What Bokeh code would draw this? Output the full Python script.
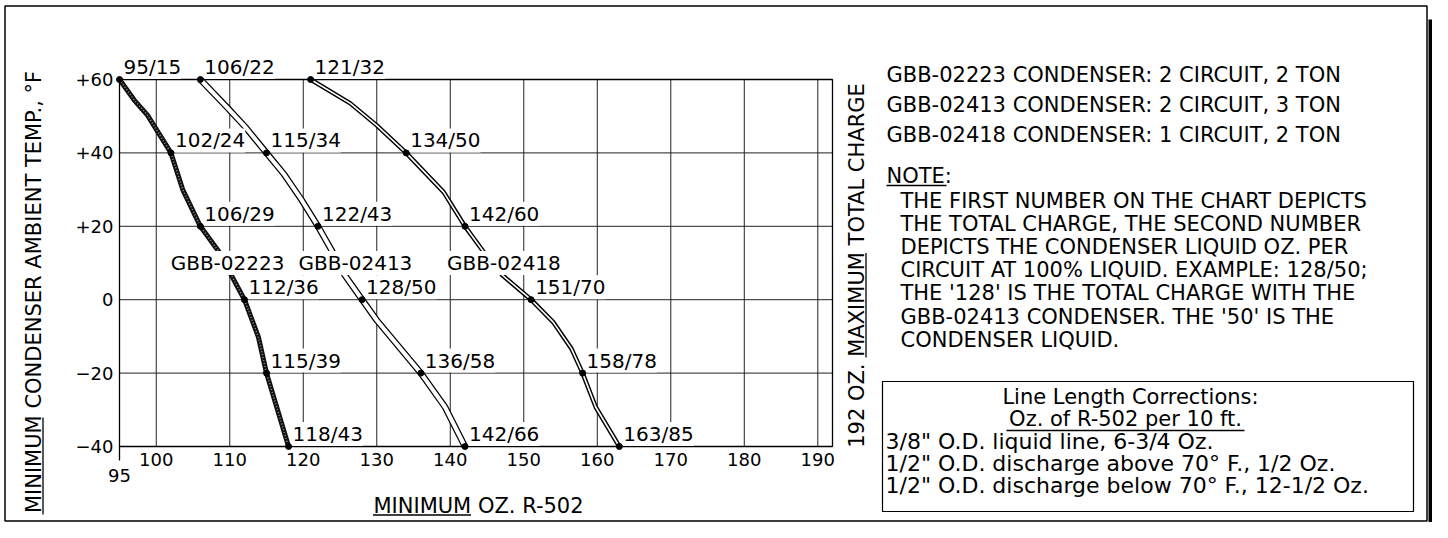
import math
from bokeh.plotting import figure
from bokeh.models import (ColumnDataSource, LabelSet, Label, FixedTicker, LinearAxis)
from bokeh.core.properties import value
from bokeh.embed import file_html
from bokeh.resources import INLINE

FONT_NAME = "DejaVu Sans"
FONT = value(FONT_NAME)

# ---------------- data ----------------
temps = [60, 40, 20, 0, -20, -40]
models = ["GBB-02223", "GBB-02413", "GBB-02418"]
circuits = [2, 2, 1]
tons = [2, 3, 2]

charge_02223 = [95, 102, 106, 112, 115, 118]
liquid_02223 = [15, 24, 29, 36, 39, 43]
charge_02413 = [106, 115, 122, 128, 136, 142]
liquid_02413 = [22, 34, 43, 50, 58, 66]
charge_02418 = [121, 134, 142, 151, 158, 163]
liquid_02418 = [32, 50, 60, 70, 78, 85]

# traced curve shapes (upper and lower pieces, broken for the model name)
trace_02223_up_x = [95, 97.0, 98.8, 102, 103.6, 106, 108.7]
trace_02223_up_y = [60, 54.4, 50.3, 40, 30, 20, 12.6]
trace_02223_lo_x = [110.1, 112, 113.9, 115, 118]
trace_02223_lo_y = [7.1, 0, -10.2, -20, -40]
trace_02413_up_x = [106, 109.6, 112.1, 115, 117.3, 119.8, 122, 124.1]
trace_02413_up_y = [60, 52.5, 47.1, 40, 34.4, 27.1, 20, 12.6]
trace_02413_lo_x = [125.5, 128, 130.0, 136, 139.3, 142]
trace_02413_lo_y = [7.1, 0, -5.6, -20, -29.3, -40]
trace_02418_up_x = [121, 126.4, 130.0, 134, 139.1, 142, 144.7]
trace_02418_up_y = [60, 53.5, 47.5, 40, 29.3, 20, 12.6]
trace_02418_lo_x = [146.9, 151, 154.0, 156.5, 158, 159.8, 163]
trace_02418_lo_y = [7.0, 0, -6.1, -13.4, -20, -29.3, -40]

model_label_x = [109.7, 127.1, 147.3]
model_label_y = [10.0, 10.0, 10.0]

x_min, x_max = 95, 192
y_min, y_max = -40, 60
x_ticks = [100, 110, 120, 130, 140, 150, 160, 170, 180, 190]
y_ticks = [-40, -20, 0, 20, 40, 60]
y_tick_labels = ["\u221240", "\u221220", "0", "+20", "+40", "+60"]

note_lines = [
    "THE FIRST NUMBER ON THE CHART DEPICTS",
    "THE TOTAL CHARGE, THE SECOND NUMBER",
    "DEPICTS THE CONDENSER LIQUID OZ. PER",
    "CIRCUIT AT 100% LIQUID. EXAMPLE: 128/50;",
    "THE '128' IS THE TOTAL CHARGE WITH THE",
    "GBB-02413 CONDENSER. THE '50' IS THE",
    "CONDENSER LIQUID.",
]
corr_title = "Line Length Corrections:"
corr_sub = "Oz. of R-502 per 10 ft."
corr_rows = [
    '3/8"  O.D. liquid line, 6-3/4 Oz.',
    '1/2"  O.D. discharge above 70\u00b0 F., 1/2 Oz.',
    '1/2"  O.D. discharge below 70\u00b0 F., 12-1/2 Oz.',
]

# ---------------- layout (pixels) ----------------
W, H = 1432, 522
BOX_L, BOX_R, BOX_T, BOX_B = 119, 832, 79, 446   # chart box on the canvas
kx = (BOX_R - BOX_L) / (x_max - x_min)
ky = (BOX_B - BOX_T) / (y_max - y_min)
xs0 = x_min - BOX_L / kx
ye0 = y_max + BOX_T / ky

p = figure(width=W, height=H, x_range=(xs0, xs0 + W / kx), y_range=(ye0 - H / ky, ye0),
           output_backend="svg", toolbar_location=None,
           x_axis_location=None, y_axis_location=None, min_border=0)
p.background_fill_color = "white"
p.border_fill_color = "white"
p.outline_line_color = None
p.grid.visible = False


def rx(px):
    return xs0 + px / kx


def ry(py):
    return ye0 - py / ky


# axes placed on the chart box
xax = LinearAxis(fixed_location=y_min, ticker=FixedTicker(ticks=x_ticks))
yax = LinearAxis(fixed_location=x_min, ticker=FixedTicker(ticks=y_ticks),
                 major_label_overrides={t: s for t, s in zip(y_ticks, y_tick_labels)})
for ax in (xax, yax):
    ax.axis_line_color = None
    ax.major_tick_line_color = None
    ax.minor_tick_line_color = None
    ax.major_tick_out = 0
    ax.major_tick_in = 0
    ax.minor_tick_out = 0
    ax.major_label_text_font = FONT_NAME
    ax.major_label_text_font_size = "18px"
    ax.major_label_text_color = "black"
    ax.major_label_standoff = 6
p.add_layout(xax, "below")
p.add_layout(yax, "left")

# grid lines and box
p.segment(x0=x_ticks, y0=[y_min] * len(x_ticks), x1=x_ticks, y1=[y_max] * len(x_ticks),
          line_color="#222222", line_width=1)
yg = [t for t in y_ticks if y_min < t < y_max]
p.segment(x0=[x_min] * len(yg), y0=yg, x1=[x_max] * len(yg), y1=yg,
          line_color="#222222", line_width=1)
p.quad(left=[x_min], right=[x_max], bottom=[y_min], top=[y_max],
       fill_color=None, line_color="black", line_width=1.3)
p.segment(x0=[x_min], y0=[y_min], x1=[x_min], y1=[ry(460)], line_color="black", line_width=1.3)


# curves
def draw(xs, ys, style):
    if style == 0:
        p.line(xs, ys, line_color="#111111", line_width=5)
        p.line(xs, ys, line_color="#9a9a9a", line_width=1.5, line_dash="1 2")
    elif style == 1:
        p.line(xs, ys, line_color="black", line_width=6.5)
        p.line(xs, ys, line_color="white", line_width=4)
    else:
        p.line(xs, ys, line_color="black", line_width=4.5)
        p.line(xs, ys, line_color="white", line_width=1.6)


draw(trace_02223_up_x, trace_02223_up_y, 0)
draw(trace_02223_lo_x, trace_02223_lo_y, 0)
draw(trace_02413_up_x, trace_02413_up_y, 1)
draw(trace_02413_lo_x, trace_02413_lo_y, 1)
draw(trace_02418_up_x, trace_02418_up_y, 2)
draw(trace_02418_lo_x, trace_02418_lo_y, 2)

px_all, py_all, lab_all = [], [], []
for ch, lq in ((charge_02223, liquid_02223), (charge_02413, liquid_02413), (charge_02418, liquid_02418)):
    for c, l, t in zip(ch, lq, temps):
        px_all.append(c)
        py_all.append(t)
        lab_all.append(f"{c}/{l}")
pts = ColumnDataSource(dict(x=px_all, y=py_all, text=lab_all))
p.scatter("x", "y", source=pts, size=6, color="black")
p.add_layout(LabelSet(x="x", y="y", text="text", source=pts, x_offset=4, y_offset=5.5,
                      text_font=FONT, text_font_size="20px", text_color="black",
                      text_baseline="alphabetic", text_align="left",
                      background_fill_color="white"))

msrc = ColumnDataSource(dict(x=model_label_x, y=model_label_y, text=models))
p.add_layout(LabelSet(x="x", y="y", text="text", source=msrc,
                      text_font=FONT, text_font_size="20px", text_color="black",
                      text_baseline="middle", text_align="center",
                      background_fill_color="white"))


def txt(x, y, s, size="21px", align="left", angle=0.0):
    p.add_layout(Label(x=x, y=y, text=s, text_font=FONT_NAME, text_font_size=size,
                       text_align=align, text_baseline="middle", angle=angle,
                       text_color="black"))


def rule(x0, y0, x1, y1, w=1.3):
    p.segment(x0=[x0], y0=[y0], x1=[x1], y1=[y1], line_color="black", line_width=w)


# "95" at the left end of the x axis (set lower)
txt(x_min, ry(475), str(x_min), size="18px", align="center")

# axis titles
txt(rx(33), ry(291.5), "MINIMUM CONDENSER AMBIENT TEMP., \u00b0F", align="center",
    angle=math.pi / 2)
rule(rx(42.5), ry(514), rx(42.5), ry(417))
txt(rx(856), ry(265), "192 OZ. MAXIMUM TOTAL CHARGE", align="center", angle=math.pi / 2)
rule(rx(865.5), ry(357), rx(865.5), ry(252.5))
txt(rx(478), ry(505), "MINIMUM OZ. R-502", align="center")
rule(rx(372.5), ry(514.5), rx(470.5), ry(514.5))

# model descriptions
for i, m in enumerate(models):
    txt(rx(886), ry(74 + 30 * i), f"{m} CONDENSER: {circuits[i]} CIRCUIT, {tons[i]} TON")

txt(rx(886), ry(175), "NOTE:")
rule(rx(886), ry(185), rx(946), ry(185))
for k, s in enumerate(note_lines):
    txt(rx(900), ry(200 + 23.2 * k), s)

# corrections box
p.quad(left=[rx(882)], right=[rx(1413)], top=[ry(381)], bottom=[ry(511)],
       fill_color=None, line_color="black", line_width=1.2)
txt(rx(1130), ry(396), corr_title, size="21px", align="center")
txt(rx(1125), ry(418), corr_sub, size="21px", align="center")
rule(rx(1006), ry(430), rx(1244), ry(430))
for k, s in enumerate(corr_rows):
    txt(rx(885), ry(441 + 22 * k), s, size="22px")

# outer sheet border and shadow bar
p.quad(left=[rx(4.5)], right=[rx(1426.5)], top=[ry(5.5)], bottom=[ry(520.5)],
       fill_color=None, line_color="black", line_width=1.5)
p.quad(left=[rx(1428)], right=[rx(1432)], top=[ry(19)], bottom=[ry(522)],
       fill_color="black", line_color=None)

open("out.html", "w").write(file_html(p, INLINE))
